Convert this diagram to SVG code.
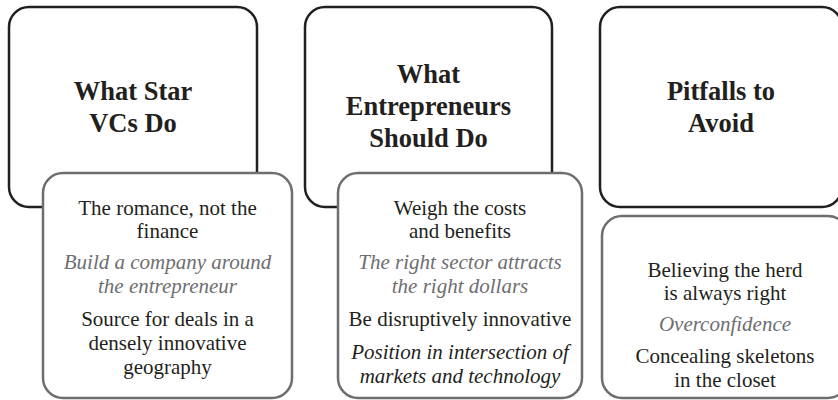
<svg xmlns="http://www.w3.org/2000/svg" width="838" height="400" viewBox="0 0 838 400">
<style>
.parent{fill:#ffffff;stroke:#231f20;stroke-width:2.5}
.child{fill:#ffffff;stroke:#6d6e71;stroke-width:2.5}
.title{font-weight:bold;font-size:26.5px;fill:#231f20;text-anchor:middle}
.body{font-size:21px;fill:#231f20;text-anchor:middle}
.gi{font-style:italic;fill:#6d6e71}
.bi{font-style:italic;fill:#231f20}
</style>
<rect width="838" height="400" fill="#ffffff"/>
<g id="connectors"></g>
<g font-family="'Liberation Serif', 'DejaVu Serif', serif">
<g id="node-vcs">
<rect class="parent" x="9" y="7" width="248" height="200" rx="20" ry="20"/>
<text class="title" x="133" y="100">What Star</text>
<text class="title" x="133" y="132">VCs Do</text>
</g>
<g id="node-vcs-items">
<rect class="child" x="43" y="173" width="249" height="225" rx="20" ry="20"/>
<text class="body" x="167.5" y="215">The romance, not the</text>
<text class="body" x="167.5" y="238">finance</text>
<text class="body gi" x="167.5" y="269">Build a company around</text>
<text class="body gi" x="167.5" y="293">the entrepreneur</text>
<text class="body" x="167.5" y="326">Source for deals in a</text>
<text class="body" x="167.5" y="350">densely innovative</text>
<text class="body" x="167.5" y="374">geography</text>
</g>
<g id="node-entrepreneurs">
<rect class="parent" x="305" y="7" width="247" height="200" rx="20" ry="20"/>
<text class="title" x="428.5" y="83">What</text>
<text class="title" x="428.5" y="115">Entrepreneurs</text>
<text class="title" x="428.5" y="147">Should Do</text>
</g>
<g id="node-entrepreneurs-items">
<rect class="child" x="338" y="173" width="244" height="225" rx="20" ry="20"/>
<text class="body" x="460" y="215">Weigh the costs</text>
<text class="body" x="460" y="238">and benefits</text>
<text class="body gi" x="460" y="269">The right sector attracts</text>
<text class="body gi" x="460" y="293">the right dollars</text>
<text class="body" x="460" y="326">Be disruptively innovative</text>
<text class="body bi" x="460" y="359">Position in intersection of</text>
<text class="body bi" x="460" y="383">markets and technology</text>
</g>
<g id="node-pitfalls">
<rect class="parent" x="600" y="7" width="242" height="200" rx="20" ry="20"/>
<text class="title" x="721" y="100">Pitfalls to</text>
<text class="title" x="721" y="132">Avoid</text>
</g>
<g id="node-pitfalls-items">
<rect class="child" x="602" y="216" width="246" height="182" rx="20" ry="20"/>
<text class="body" x="725" y="277">Believing the herd</text>
<text class="body" x="725" y="300">is always right</text>
<text class="body gi" x="725" y="331">Overconfidence</text>
<text class="body" x="725" y="363">Concealing skeletons</text>
<text class="body" x="725" y="387">in the closet</text>
</g>
</g>
</svg>
